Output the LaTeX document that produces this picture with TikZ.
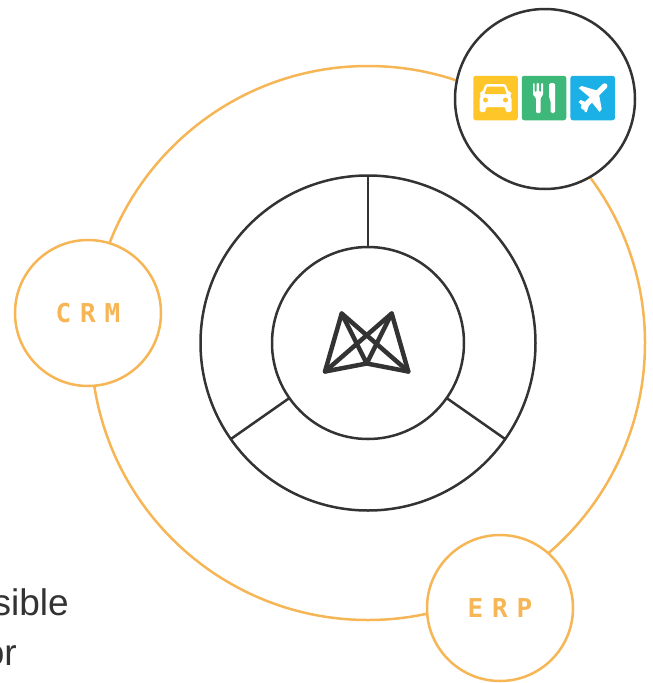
\documentclass[tikz,border=0pt]{standalone}
\usepackage{fontspec}
\setmainfont{Liberation Sans}
\newfontfamily\ringfont[LetterSpace=34]{DejaVu Sans Mono}
\definecolor{ringorange}{HTML}{F6B655}
\definecolor{darkline}{HTML}{333333}
\definecolor{caryellow}{HTML}{FFC629}
\definecolor{foodgreen}{HTML}{3DB878}
\definecolor{flightblue}{HTML}{1BB1E7}
\tikzset{
  ring/.style={circle, draw=darkline, line width=2.5pt, fill=white, inner sep=0pt, outer sep=0pt},
  orangering/.style={circle, draw=ringorange, line width=2.5pt, fill=white, inner sep=0pt, outer sep=0pt, minimum size=146pt,
    text=ringorange, font=\ringfont\bfseries\fontsize{26}{26}\selectfont},
  iconbox/.style={draw=none, rounded corners=2.5pt, inner sep=0pt, outer sep=0pt, minimum size=44.5pt},
  bodytext/.style={anchor=base east, text=darkline, inner sep=0pt, font=\fontsize{37}{37}\selectfont},
  spoke/.style={draw=darkline, line width=2.5pt},
  logoline/.style={draw=darkline, line width=4.5pt, line cap=round, line join=round}
}
\begin{document}
\begin{tikzpicture}[x=1pt, y=-1pt]
  \useasboundingbox (0, 0) rectangle (653, 683);

  \node[circle, draw=ringorange, line width=2.5pt, inner sep=0pt, outer sep=0pt, minimum size=554pt] (orbit) at (368, 343) {};

  \node[ring, minimum size=335pt] (outer) at (368, 343) {};
  \node[ring, minimum size=192pt] (inner) at (368, 343) {};
  \draw[spoke] (inner.90) -- (outer.90);
  \draw[spoke] (inner.215) -- (outer.215);
  \draw[spoke] (inner.325) -- (outer.325);

  \coordinate (topleft) at (341.7, 313.5);
  \coordinate (topright) at (391.7, 313.5);
  \coordinate (botleft) at (325, 371.5);
  \coordinate (botright) at (408.3, 371.5);
  \coordinate (botmid) at (366.7, 363.5);
  \draw[logoline] (botmid) -- (topleft) -- (botleft) -- (botmid) -- (botright) -- (topright) -- (botmid);
  \draw[logoline] (topleft) -- (botright);
  \draw[logoline] (topright) -- (botleft);

  \node[orangering] (crm) at (88, 313) {CRM};
  \node[orangering] (erp) at (500, 608) {ERP};
  \node[ring, minimum size=180pt] (apps) at (545, 99) {};

  \node[iconbox, fill=caryellow] (car) at (495.5, 98) {};
  \node[iconbox, fill=foodgreen] (food) at (544, 98) {};
  \node[iconbox, fill=flightblue] (flight) at (592.7, 98) {};

  \begin{scope}[shift={(car)}]
    \fill[white, rounded corners=1.5pt] (-10, -14) -- (10, -14) -- (13, -6) -- (16, -6) -- (16, -3) -- (14, -3) -- (16, 0) -- (16, 14) -- (10, 14) -- (10, 9) -- (-10, 9) -- (-10, 14) -- (-16, 14) -- (-16, 0) -- (-14, -3) -- (-16, -3) -- (-16, -6) -- (-13, -6) -- cycle;
    \fill[caryellow] (-8.5, -11.5) -- (8.5, -11.5) -- (11, -4) -- (-11, -4) -- cycle;
    \fill[caryellow] (-10, 2) circle (2.5);
    \fill[caryellow] (10, 2) circle (2.5);
  \end{scope}

  \begin{scope}[shift={(food)}]
    \fill[white, rounded corners=1pt] (-11, -15) -- (-9.5, -15) -- (-9.5, -6) -- (-7.5, -6) -- (-7.5, -15) -- (-5, -15) -- (-5, -6) -- (-3, -6) -- (-3, -15) -- (-1, -15) -- (-1, -3) -- (-3.5, 0) -- (-3.5, 15) -- (-8, 15) -- (-8, 0) -- (-11, -3) -- cycle;
    \fill[white, rounded corners=1.5pt] (5, -15) -- (11, -15) -- (11, 15) -- (6.5, 15) -- (6.5, 2) -- (5, 0) -- cycle;
  \end{scope}

  \begin{scope}[shift={(flight)}]
    \draw[white, line width=5.5pt, line cap=round] (-9, 9) -- (12, -12);
    \fill[white] (-14, -10) -- (-11, -12) -- (6, -7) -- (-1, 1) -- cycle;
    \fill[white] (7, 14) -- (9, 11) -- (6, -5) -- (-2, 3) -- cycle;
    \fill[white] (-14, 4) -- (-12, 2) -- (-5, 5) -- (-4, 8) -- (-6, 14) -- (-8, 14) -- (-9, 9) -- cycle;
  \end{scope}

  \node[bodytext] (line1) at (69, 615) {sible};
  \node[bodytext] (line2) at (17, 665) {or};
\end{tikzpicture}
\end{document}
